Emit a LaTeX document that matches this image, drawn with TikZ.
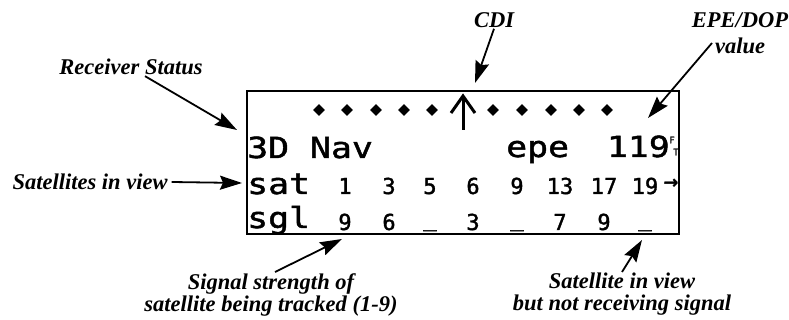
\documentclass[tikz,border=0pt]{standalone}
\usepackage{fontspec}
\setmainfont{Liberation Serif}
\newfontfamily\lcdfont[FakeStretch=1.2,FakeBold=1.6]{DejaVu Sans Mono}
\newfontfamily\lcdsmallfont[FakeBold=1.6]{DejaVu Sans Mono}
\usetikzlibrary{arrows.meta,shapes.geometric}

\begin{document}
\begin{tikzpicture}[
  x=1pt,y=-1pt,
  callout/.style={font=\fontsize{22.5}{22}\selectfont\bfseries\itshape,align=center,inner sep=1pt},
  lcd/.style={font=\lcdfont\fontsize{29}{29}\selectfont,inner sep=0pt,anchor=base west},
  digit/.style={font=\lcdsmallfont\fontsize{22}{22}\selectfont,inner sep=0pt,anchor=base},
  unit/.style={font=\lcdsmallfont\fontsize{9}{9}\selectfont,inner sep=0pt},
  pip/.style={diamond,fill=black,inner sep=0pt,minimum size=12pt},
  pointer/.style={-{Stealth[length=22pt,width=14pt,inset=3pt]},line width=1.8pt}
]
\useasboundingbox (0,0) rectangle (789,320);

% ===== DISPLAY =====
\node[draw,line width=2.4pt,minimum width=432pt,minimum height=143pt,inner sep=0pt] (screen) at (463,162.5) {};

% CDI row
\node[pip] (pip1) at (319,110) {};
\node[pip] (pip2) at (347,110) {};
\node[pip] (pip3) at (376,110) {};
\node[pip] (pip4) at (404,110) {};
\node[pip] (pip5) at (432,110) {};
\node[pip] (pip6) at (493,110) {};
\node[pip] (pip7) at (522,110) {};
\node[pip] (pip8) at (551,110) {};
\node[pip] (pip9) at (579,110) {};
\node[pip] (pip10) at (607,110) {};
\draw[line width=3pt] (463,130) -- (463,96);
\draw[line width=3pt] (451,113) -- (463,96) -- (475,113);

% Status line
\node[lcd] (nav) at (247,158) {3D Nav};
\node[lcd] (epe_txt) at (506,157) {epe};
\node[lcd,anchor=base east] (epe_val) at (670,157) {119};
\node[unit] (unit_f) at (672,140) {F};
\node[unit] (unit_t) at (676,152) {T};

% Satellite numbers
\node[lcd] (sat) at (247,194) {sat};
\node[digit] (sat1) at (345,194) {1};
\node[digit] (sat2) at (389,194) {3};
\node[digit] (sat3) at (430,194) {5};
\node[digit] (sat4) at (473,194) {6};
\node[digit] (sat5) at (517,194) {9};
\node[digit] (sat6) at (560,194) {13};
\node[digit] (sat7) at (604,194) {17};
\node[digit] (sat8) at (645,194) {19};
\node[unit,font=\lcdsmallfont\fontsize{24}{24}\selectfont] (more) at (671,184) {→};

% Signal strengths
\node[lcd] (sgl) at (247,228) {sgl};
\node[digit] (sgl1) at (345,230) {9};
\node[digit] (sgl2) at (389,230) {6};
\node[digit] (sgl3) at (430,230) {\raisebox{4pt}{\_}};
\node[digit] (sgl4) at (473,230) {3};
\node[digit] (sgl5) at (517,230) {\raisebox{4pt}{\_}};
\node[digit] (sgl6) at (560,230) {7};
\node[digit] (sgl7) at (604,230) {9};
\node[digit] (sgl8) at (645,230) {\raisebox{4pt}{\_}};

% ===== CALLOUTS =====
\coordinate (tip_status) at (237,130);
\coordinate (tip_cdi) at (475,83);
\coordinate (tip_epe) at (648,118);
\coordinate (tip_inview) at (242,183);
\coordinate (tip_strength) at (342,239);
\coordinate (tip_notrx) at (642,240);

\node[callout] (status) at (131,67) {Receiver Status};
\node[callout] (cdi) at (494,20) {CDI};
\node[callout,font=\fontsize{22.5}{26}\selectfont\bfseries\itshape] (epe) at (740,33) {EPE/DOP\\value};
\node[callout] (inview) at (90,182) {Satellites in view};
\node[callout,anchor=north] (strength) at (271,272) {Signal strength of\\satellite being tracked (1-9)};
\node[callout,anchor=north] (notrx) at (622,272) {Satellite in view\\but not receiving signal};

\draw[pointer] ([xshift=14pt]status.south) -- (tip_status);
\draw[pointer] (cdi.south) -- (tip_cdi);
\draw[pointer] ([xshift=-28pt,yshift=-10pt]epe.center) -- (tip_epe);
\draw[pointer] ([xshift=3pt]inview.east) -- (tip_inview);
\draw[pointer] ([xshift=4pt]strength.north) -- (tip_strength);
\draw[pointer] (notrx.north) -- (tip_notrx);

\end{tikzpicture}
\end{document}
